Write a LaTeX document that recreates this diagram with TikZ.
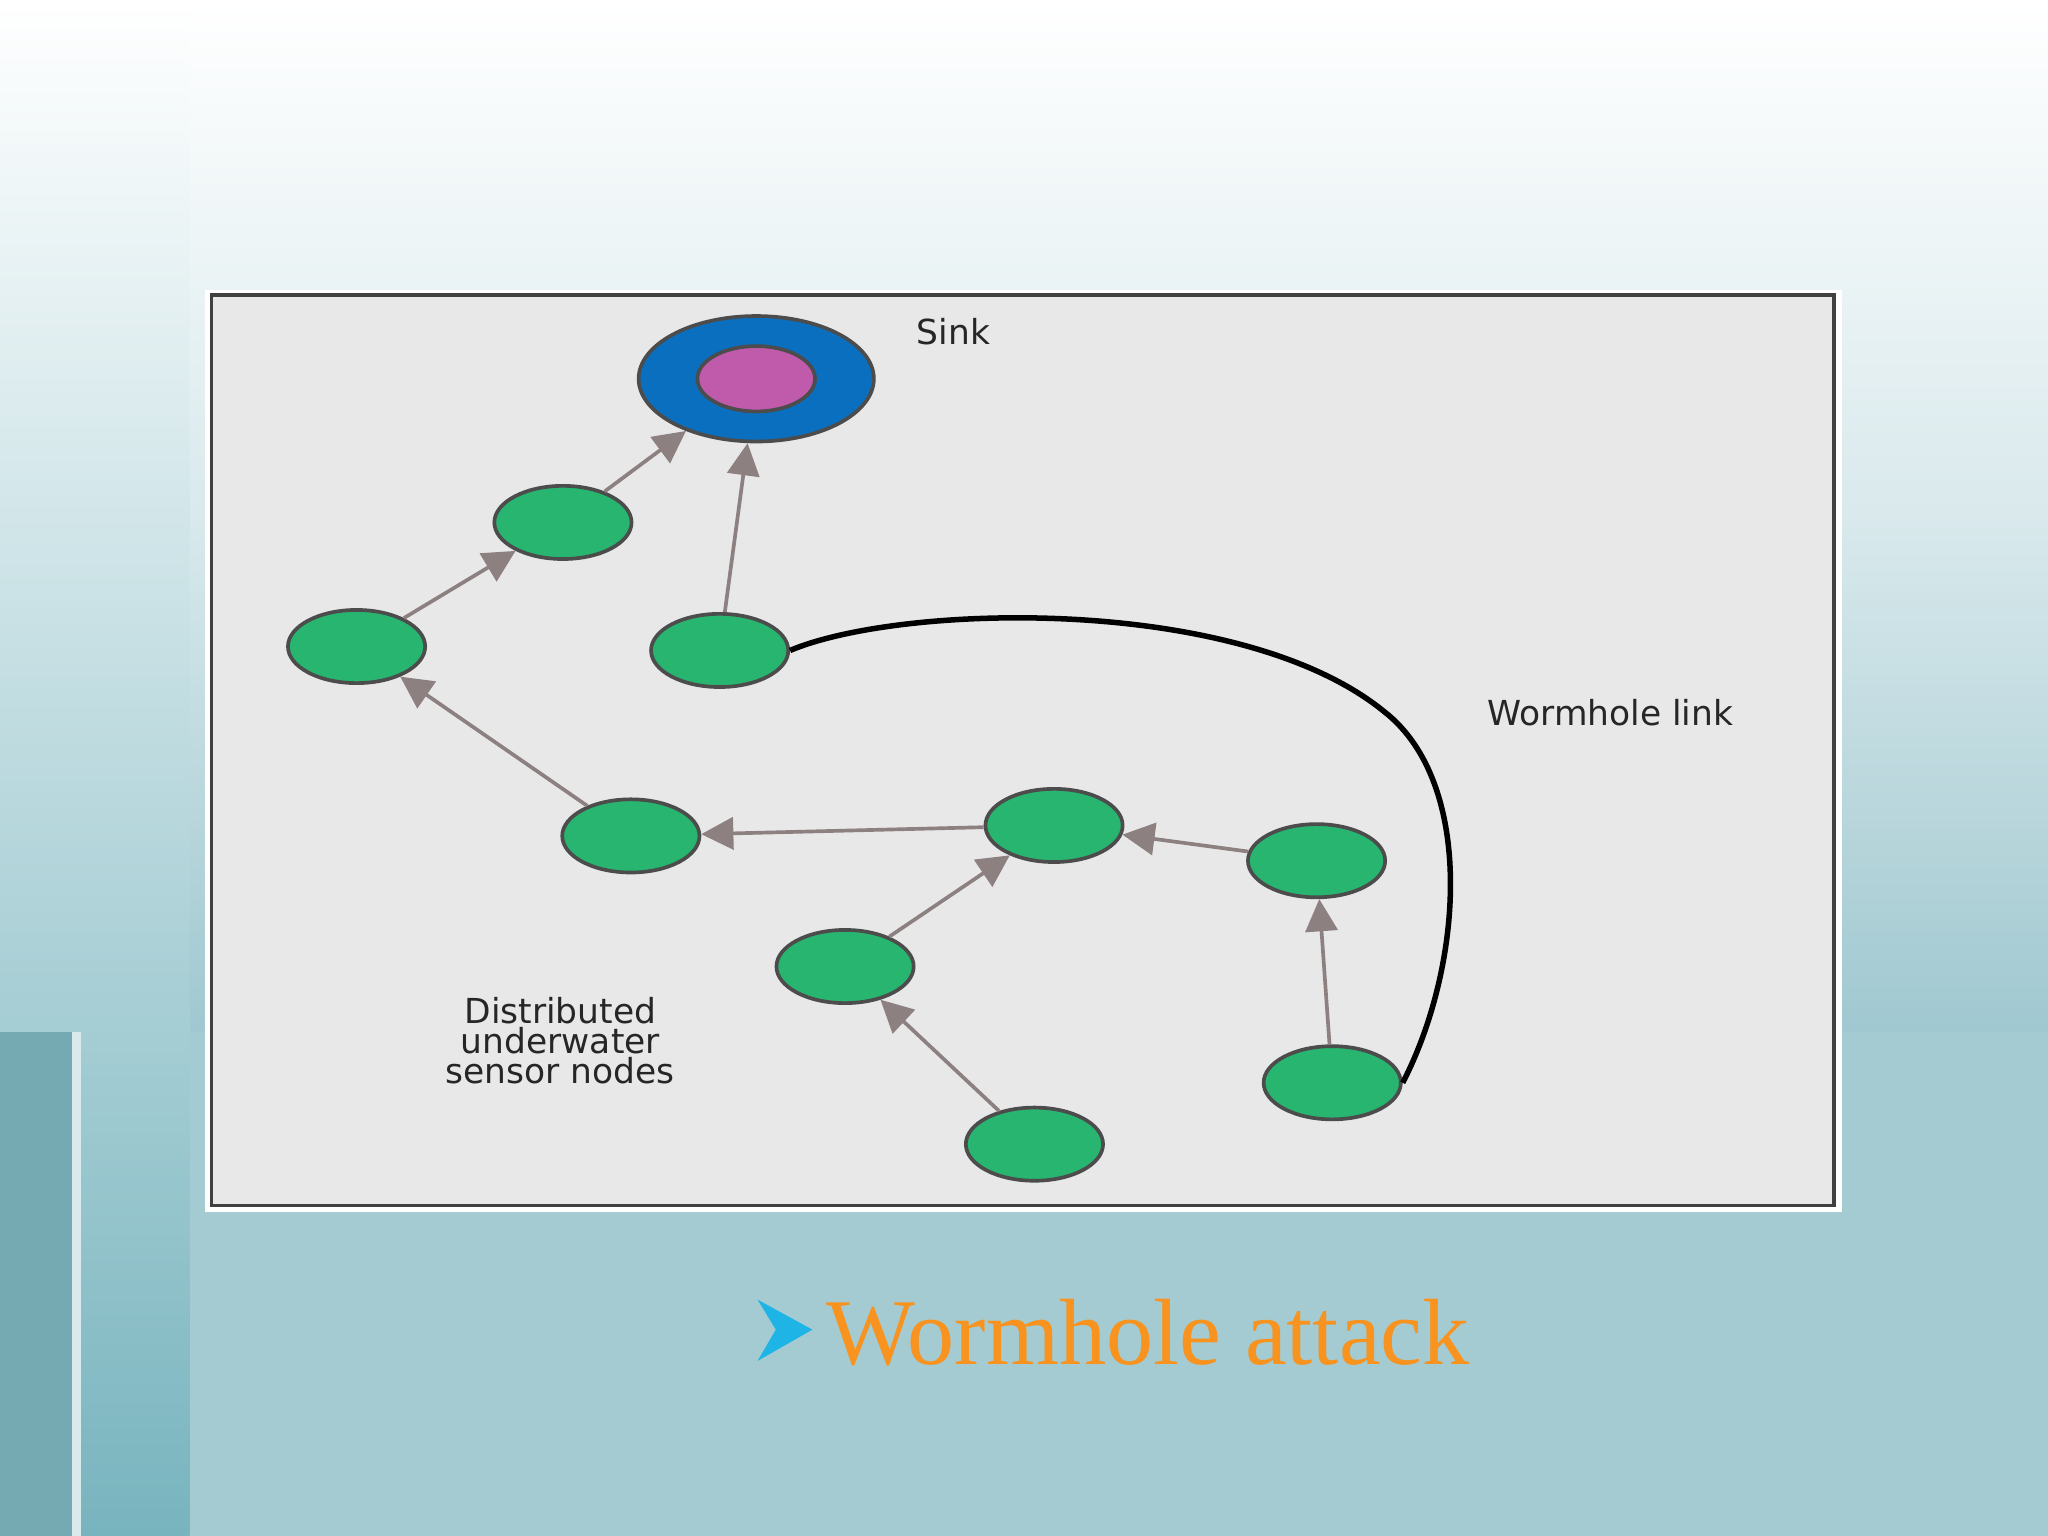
\documentclass[tikz,border=0pt]{standalone}
\usepackage{fontspec}
\setmainfont{Liberation Serif}
\newfontfamily\labfont{DejaVu Sans}
\usetikzlibrary{shapes.geometric,arrows.meta}
\definecolor{sgreen}{RGB}{39,181,111}
\definecolor{sblue}{RGB}{10,111,191}
\definecolor{smag}{RGB}{192,90,171}
\definecolor{agrey}{RGB}{140,128,128}
\definecolor{tealA}{RGB}{160,200,208}
\definecolor{tealB}{RGB}{120,180,190}
\definecolor{orangeT}{RGB}{247,147,30}
\definecolor{cyanT}{RGB}{30,180,230}
\tikzset{
 sensor/.style={ellipse,draw=black!70,thick,fill=sgreen,minimum width=1.05cm,minimum height=0.56cm,inner sep=0pt},
 link/.style={draw=agrey,line width=0.8pt,-{Triangle[length=7pt,width=7pt,fill=agrey]}},
 lab/.style={font=\labfont\fontsize{7.5}{7.5}\selectfont,text=black!85,align=center,inner sep=0pt}
}
\begin{document}
\begin{tikzpicture}[x=0.01cm,y=-0.01cm]
\useasboundingbox (0,0) rectangle (1568,1176);
\shade[top color=white,bottom color=tealA,middle color=white!60!tealA] (0,0) rectangle (1568,790);
\fill[tealA!95!white] (0,790) rectangle (1568,1176);
\shade[top color=white, middle color=tealA, bottom color=tealB] (0,0) rectangle (145,1176);
\fill[white!60!tealA] (55,790) rectangle (62,1176);
\fill[tealB!90!black!80!tealA] (0,790) rectangle (55,1176);
\fill[white] (157,222) rectangle (1410,928);
\filldraw[fill=black!9,draw=black!75,line width=0.8pt] (162,226) rectangle (1404,923);
\node[ellipse,draw=black!70,thick,fill=sblue,minimum width=1.8cm,minimum height=0.96cm] (sink) at (579,290) {};
\node[ellipse,draw=black!70,thick,fill=smag,minimum width=0.9cm,minimum height=0.5cm] (sinkin) at (579,290) {};
\node[sensor] (n1) at (431,400) {};
\node[sensor] (n2) at (273,495) {};
\node[sensor] (n3) at (551,498) {};
\node[sensor] (n4) at (483,640) {};
\node[sensor] (n5) at (807,632) {};
\node[sensor] (n6) at (1008,659) {};
\node[sensor] (n7) at (647,740) {};
\node[sensor] (n8) at (1020,829) {};
\node[sensor] (n9) at (792,876) {};
\draw[link] (n1) -- (sink);
\draw[link] (n3) -- (sink);
\draw[link] (n2) -- (n1);
\draw[link] (n4) -- (n2);
\draw[link] (n5) -- (n4);
\draw[link] (n6) -- (n5);
\draw[link] (n7) -- (n5);
\draw[link] (n9) -- (n7);
\draw[link] (n8) -- (n6);
\draw[black,line width=1.2pt] (n3.east) .. controls (690,462) and (950,455) .. (1060,545) .. controls (1130,600) and (1120,740) .. (n8.east);
\node[lab] (lsink) at (730,254) {Sink};
\node[lab] (lworm) at (1233,546) {Wormhole link};
\node[lab] (ldist) at (429,797) {Distributed\\[-1pt] underwater\\[-1pt] sensor nodes};
\fill[cyanT] (580,995) -- (622,1018) -- (580,1042) -- (594,1018) -- cycle;
\node[anchor=west,text=orangeT,font=\fontsize{20.5}{20.5}\selectfont,inner sep=0pt] (cap) at (632,1020) {Wormhole attack};
\end{tikzpicture}
\end{document}
